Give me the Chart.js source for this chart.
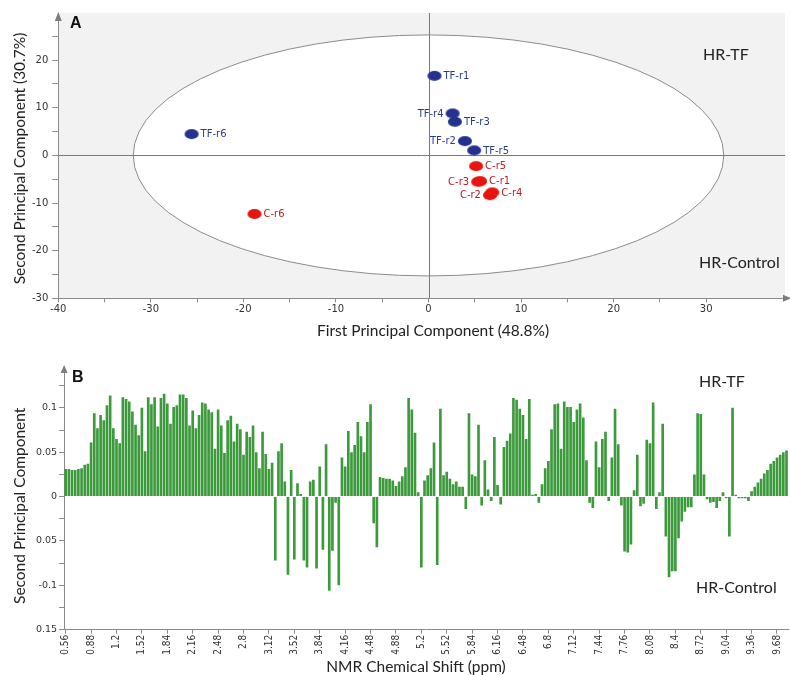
<!DOCTYPE html>
<html><head><meta charset="utf-8">
<script src="https://cdn.jsdelivr.net/npm/chart.js@4.4.1/dist/chart.umd.min.js"></script>
<style>
html,body{margin:0;padding:0;background:#fff;}
#wrap{position:relative;width:790px;height:675px;overflow:hidden;}
canvas{position:absolute;left:0;}
#cA{top:0;width:790px;height:340px;}
#cB{top:340px;width:790px;height:335px;}
</style></head><body>
<div id="wrap"><canvas id="cA" width="790" height="340"></canvas><canvas id="cB" width="790" height="335"></canvas></div>
<script>
// ---------- Panel A: PCA scores ----------
const tfNames = ['TF-r1','TF-r2','TF-r3','TF-r4','TF-r5','TF-r6'];
const tfPC1 = [0.64, 3.93, 2.85, 2.6, 4.93, -25.6];
const tfPC2 = [16.7, 3.0, 7.06, 8.8, 1.05, 4.47];
const tfLabelSide = ['right','left','right','left','right','right'];
const cNames = ['C-r1','C-r2','C-r3','C-r4','C-r5','C-r6'];
const cPC1 = [5.57, 6.64, 5.36, 6.89, 5.14, -18.8];
const cPC2 = [-5.40, -8.34, -5.54, -7.77, -2.25, -12.3];
const cLabelSide = ['right','left','left','right','right','right'];
const ellipseSemiAxes = [31.9, 25.3];
const scoreXTicks = [-40,-30,-20,-10,0,10,20,30];
const scoreXTickText = ['-40','-30','-20','-10','0','10','20','30'];
const scoreYTicks = [-30,-20,-10,0,10,20];
const scoreYTickText = ['-30','-20','-10','0','10','20'];

// ---------- Panel B: PC2 loadings ----------
const shiftTickLabels = ['0.56','0.88','1.2','1.52','1.84','2.16','2.48','2.8','3.12','3.52','3.84','4.16','4.48','4.88','5.2','5.52','5.84','6.16','6.48','6.8','7.12','7.44','7.76','8.08','8.4','8.72','9.04','9.36','9.68'];
const pc2Loadings = [
 0.031,0.031,0.030,0.030,0.031,0.032,0.036,0.037,
 0.061,0.094,0.077,0.092,0.086,0.103,0.114,0.077,
 0.065,0.060,0.112,0.110,0.107,0.096,0.081,0.069,
 0.100,0.051,0.112,0.104,0.112,0.079,0.111,0.116,
 0.105,0.082,0.101,0.103,0.115,0.115,0.111,0.080,
 0.097,0.077,0.092,0.106,0.105,0.098,0.095,0.054,
 0.098,0.080,0.049,0.086,0.091,0.062,0.082,0.076,
 0.047,0.073,0.067,0.080,0.050,0.032,0.073,0.048,
 0.031,0.038,-0.072,0.051,0.060,0.017,-0.088,0.030,
 -0.071,0.015,0.003,-0.072,-0.080,0.017,0.019,-0.081,
 0.034,-0.060,0.059,-0.106,-0.061,-0.007,-0.100,0.044,
 0.034,0.074,0.050,0.058,0.084,0.068,0.050,0.084,
 0.104,-0.030,-0.057,0.022,0.021,0.020,0.020,0.018,
 0.012,0.017,0.023,0.033,0.111,0.098,0.072,0.005,
 -0.080,0.018,0.024,0.032,0.061,-0.077,0.099,0.024,
 0.028,0.020,0.014,0.017,0.011,0.011,-0.014,0.094,
 0.025,0.023,0.081,-0.010,0.041,0.008,-0.005,0.067,
 0.013,-0.009,0.056,0.063,0.071,0.111,0.109,0.099,
 0.092,0.065,0.110,0.002,0.003,-0.007,0.014,0.032,
 0.040,0.076,0.104,0.105,0.054,0.107,0.101,0.101,
 0.084,0.098,0.105,0.089,0.041,-0.007,-0.013,0.062,
 0.033,0.065,0.073,-0.005,0.044,0.099,0.059,-0.010,
 -0.062,-0.063,-0.054,0.007,0.047,-0.011,-0.008,0.064,
 0.060,0.106,-0.014,0.005,0.082,-0.045,-0.091,-0.084,
 -0.084,-0.047,-0.028,-0.017,-0.012,-0.012,0.025,0.094,
 0.093,0.025,-0.003,-0.007,-0.006,-0.013,-0.005,0.005,
 -0.002,-0.045,0.100,0.002,-0.002,-0.002,-0.002,-0.005,
 0.006,0.011,0.016,0.020,0.026,0.030,0.037,0.040,
 0.044,0.047,0.050,0.052
];
const loadTickValues = [-0.15,-0.1,-0.05,0,0.05,0.1];
const loadTickText = ['0.15','-0.1','0.05','0','0.05','0.1'];

// ---------- styles ----------
const AXIS = '#8a8a8a';
const TICKFONT = {family:'"DejaVu Sans", Verdana, sans-serif', size:10};
const TITLEFONT = '15.5px Lato, "Open Sans", sans-serif';
const TF_FILL = '#24318f', C_FILL = '#e8140f';
const TF_TEXT = '#2c3a8c', C_TEXT = '#b5202a';

function ellipseSprite(color){
  const c = document.createElement('canvas');
  c.width = 16; c.height = 12;
  const g = c.getContext('2d');
  g.fillStyle = color;
  g.beginPath(); g.ellipse(8,6,7,5,0,0,Math.PI*2); g.fill();
  return c;
}

function upArrow(ctx,x,yTip,h,w){
  ctx.fillStyle = '#7d7d7d';
  ctx.beginPath(); ctx.moveTo(x,yTip); ctx.lineTo(x-w,yTip+h); ctx.lineTo(x+w,yTip+h); ctx.closePath(); ctx.fill();
}

const panelABack = {
  id:'panelABack',
  beforeDraw(chart){
    const {ctx, chartArea:a, scales:{x,y}} = chart;
    ctx.save();
    ctx.fillStyle = '#f2f2f2';
    ctx.fillRect(a.left, a.top, a.right - a.left + 2, a.bottom - a.top);
    const cx = x.getPixelForValue(0), cy = y.getPixelForValue(0);
    const rx = Math.abs(x.getPixelForValue(ellipseSemiAxes[0]) - cx);
    const ry = Math.abs(y.getPixelForValue(ellipseSemiAxes[1]) - cy);
    ctx.fillStyle = '#ffffff';
    ctx.strokeStyle = '#8c8c8c';
    ctx.lineWidth = 1;
    ctx.beginPath(); ctx.ellipse(cx, cy, rx, ry, 0, 0, Math.PI*2); ctx.fill(); ctx.stroke();
    ctx.strokeStyle = '#7a7a7a';
    ctx.beginPath();
    ctx.moveTo(Math.round(cx)+0.5, a.top); ctx.lineTo(Math.round(cx)+0.5, a.bottom);
    ctx.moveTo(a.left, Math.round(cy)+0.5); ctx.lineTo(a.right+2, Math.round(cy)+0.5);
    ctx.stroke();
    ctx.restore();
  },
  afterDraw(chart){
    const {ctx, chartArea:a} = chart;
    ctx.save();
    ctx.font = '10px "DejaVu Sans", Verdana, sans-serif';
    ctx.textBaseline = 'middle';
    const sides = [tfLabelSide, cLabelSide];
    const names = [tfNames, cNames];
    const cols = [TF_TEXT, C_TEXT];
    for (let d = 0; d < 2; d++){
      const meta = chart.getDatasetMeta(d);
      meta.data.forEach((pt, i) => {
        ctx.fillStyle = cols[d];
        if (sides[d][i] === 'right'){ ctx.textAlign = 'left'; ctx.fillText(names[d][i], pt.x + 9, pt.y + 0.5); }
        else { ctx.textAlign = 'right'; ctx.fillText(names[d][i], pt.x - 9, pt.y + 0.5); }
      });
    }
    upArrow(ctx, a.left, a.top - 1, 9, 3.5);
    ctx.beginPath(); ctx.moveTo(791, a.bottom); ctx.lineTo(783, a.bottom-3.5); ctx.lineTo(783, a.bottom+3.5); ctx.closePath(); ctx.fill();
    ctx.fillStyle = '#111';
    ctx.font = 'bold 16px "Liberation Sans", Arial, sans-serif';
    ctx.textAlign = 'left'; ctx.textBaseline = 'alphabetic';
    ctx.fillText('A', 70, 28);
    ctx.font = '16px Lato, sans-serif';
    ctx.fillStyle = '#222';
    ctx.textBaseline = 'middle';
    ctx.fillText('HR-TF', 703, 55);
    ctx.fillText('HR-Control', 699, 263);
    ctx.font = TITLEFONT;
    ctx.textBaseline = 'alphabetic';
    ctx.textAlign = 'center';
    ctx.fillText('First Principal Component (48.8%)', 433, 335.5);
    ctx.translate(25, 158.5); ctx.rotate(-Math.PI/2);
    ctx.fillText('Second Principal Component (30.7%)', 0, 0);
    ctx.restore();
  }
};

new Chart(document.getElementById('cA'), {
  type:'scatter',
  data:{ datasets:[
    { label:'HR-TF', data: tfPC1.map((v,i)=>({x:v, y:tfPC2[i]})), pointStyle: ellipseSprite(TF_FILL), pointRadius:6 },
    { label:'HR-Control', data: cPC1.map((v,i)=>({x:v, y:cPC2[i]})), pointStyle: ellipseSprite(C_FILL), pointRadius:6 }
  ]},
  options:{
    responsive:false, animation:false, devicePixelRatio:1,
    layout:{padding:{top:13, right:2, left:0, bottom:0}},
    plugins:{legend:{display:false}, tooltip:{enabled:false}},
    scales:{
      x:{ type:'linear', min:-40, max:38.3,
        afterBuildTicks:(s)=>{ s.ticks = s.ticks.filter(t => t.value % 5 === 0); },
        afterFit:(s)=>{ s.height = 41.7; },
        ticks:{ stepSize:5, autoSkip:false, maxRotation:0, padding:1, color:'#333', font:TICKFONT,
          callback:(v)=>{ const i = scoreXTicks.indexOf(v); return i >= 0 ? scoreXTickText[i] : ''; } },
        grid:{ drawOnChartArea:false, drawTicks:true, tickLength:4, color:AXIS },
        border:{ color:AXIS }
      },
      y:{ type:'linear', min:-30, max:29.9,
        afterBuildTicks:(s)=>{ s.ticks = s.ticks.filter(t => t.value % 5 === 0 && t.value < 29); },
        afterFit:(s)=>{ s.width = 58.3; },
        ticks:{ stepSize:5, autoSkip:false, padding:4, color:'#333', font:TICKFONT,
          callback:(v)=>{ const i = scoreYTicks.indexOf(v); return i >= 0 ? scoreYTickText[i] : ''; } },
        grid:{ drawOnChartArea:false, drawTicks:true, tickLength:6, color:AXIS },
        border:{ color:AXIS }
      }
    }
  },
  plugins:[panelABack]
});

const panelBText = {
  id:'panelBText',
  afterDraw(chart){
    const {ctx, chartArea:a} = chart;
    ctx.save();
    upArrow(ctx, a.left, 25, 8, 3.5);
    ctx.fillStyle = '#111';
    ctx.font = 'bold 16px "Liberation Sans", Arial, sans-serif';
    ctx.textAlign = 'left'; ctx.textBaseline = 'alphabetic';
    ctx.fillText('B', 72, 41.7);
    ctx.font = '16px Lato, sans-serif';
    ctx.fillStyle = '#222';
    ctx.textBaseline = 'middle';
    ctx.fillText('HR-TF', 699, 41.7);
    ctx.fillText('HR-Control', 696, 248);
    ctx.font = TITLEFONT;
    ctx.textAlign = 'center';
    ctx.textBaseline = 'alphabetic';
    ctx.fillText('NMR Chemical Shift (ppm)', 416, 332);
    ctx.translate(25, 165.8); ctx.rotate(-Math.PI/2);
    ctx.fillText('Second Principal Component', 0, 0);
    ctx.restore();
  }
};

new Chart(document.getElementById('cB'), {
  type:'bar',
  data:{
    labels: pc2Loadings.map((_, i) => i),
    datasets:[{ label:'PC2 loading', data: pc2Loadings, backgroundColor:'#3c9a3c', borderWidth:0, barPercentage:0.84, categoryPercentage:1 }]
  },
  options:{
    responsive:false, animation:false, devicePixelRatio:1,
    layout:{padding:{top:27, right:0.6, left:0, bottom:0}},
    plugins:{legend:{display:false}, tooltip:{enabled:false}},
    scales:{
      x:{ type:'category', offset:true,
        afterFit:(s)=>{ s.height = 45.3; },
        ticks:{ autoSkip:false, minRotation:90, maxRotation:90, padding:1, color:'#333',
          font:{family:'"Liberation Sans Narrow", "DejaVu Sans Condensed", sans-serif', size:10},
          callback:(v, i)=> (i % 8 === 0 ? shiftTickLabels[i/8] : null) },
        grid:{ drawOnChartArea:false, drawTicks:true, tickLength:4, color:AXIS, offset:false },
        border:{ color:AXIS }
      },
      y:{ type:'linear', min:-0.15, max:0.146,
        afterBuildTicks:(s)=>{ s.ticks = s.ticks.filter(t => Math.abs(t.value*40 - Math.round(t.value*40)) < 1e-6 && t.value < 0.14); },
        afterFit:(s)=>{ s.width = 64.1; },
        ticks:{ stepSize:0.025, autoSkip:false, padding:2, color:'#333', font:{family:'"DejaVu Sans", Verdana, sans-serif', size:9.5},
          callback:(v)=>{ const i = loadTickValues.findIndex(t => Math.abs(t - v) < 1e-6); return i >= 0 ? loadTickText[i] : ''; } },
        grid:{ drawOnChartArea:false, drawTicks:true, tickLength:5, color:AXIS },
        border:{ color:AXIS }
      }
    }
  },
  plugins:[panelBText]
});
</script>
</body></html>
